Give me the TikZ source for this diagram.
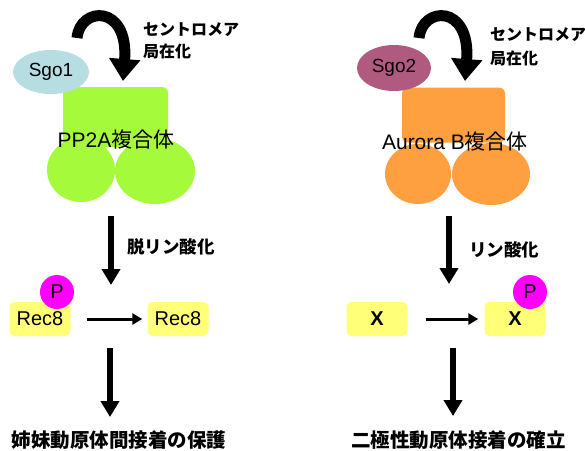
\documentclass[tikz,border=0pt]{standalone}
\usepackage{fontspec}
\setmainfont{Liberation Sans}
\newfontfamily\cjk{Noto Sans CJK JP}[BoldFont={Noto Sans CJK JP Black}]
\usetikzlibrary{arrows.meta,shapes.geometric}
\definecolor{pgreen}{RGB}{166,250,60}
\definecolor{porange}{RGB}{255,160,64}
\definecolor{sgoblue}{RGB}{182,221,226}
\definecolor{sgomauve}{RGB}{176,90,128}
\definecolor{pyellow}{RGB}{255,255,120}
\definecolor{pmag}{RGB}{255,0,255}
\begin{document}
\begin{tikzpicture}[x=1pt,y=-1pt,
  blob/.style={ellipse,draw=none,inner sep=0pt},
  cplx/.style={rectangle,rounded corners=6pt,draw=none,inner sep=0pt},
  sgo/.style={ellipse,draw=none,inner sep=0pt,font=\fontsize{19}{22}\selectfont},
  cplxlab/.style={inner sep=0pt,font=\fontsize{21}{24}\selectfont},
  jlab/.style={inner sep=0pt,anchor=west,font=\cjk\bfseries\fontsize{16}{18}\selectfont},
  plab/.style={inner sep=0pt,anchor=west,font=\cjk\bfseries\fontsize{17.5}{20}\selectfont},
  reslab/.style={inner sep=0pt,font=\cjk\bfseries\fontsize{19.5}{22}\selectfont},
  subbox/.style={rectangle,rounded corners=5pt,fill=pyellow,draw=none,inner sep=0pt,
     minimum width=61pt,minimum height=34pt,font=\fontsize{20}{24}\selectfont},
  phos/.style={circle,fill=pmag,draw=none,inner sep=0pt,minimum size=34pt,
     font=\fontsize{20}{24}\selectfont},
  curvarr/.style={line width=11pt,-{Triangle[width=30pt,length=22pt]}},
  darr/.style={line width=6pt,-{Triangle[width=18pt,length=16pt]}},
  harr/.style={line width=3pt,-{Triangle[width=11pt,length=10pt]}}]
\useasboundingbox (0,0) rectangle (585,450);

% ---------- left: PP2A ----------
\node[cplx,fill=pgreen,minimum width=105pt,minimum height=60pt] (pprect) at (115.5,117) {};
\node[blob,fill=pgreen,minimum width=68pt,minimum height=64pt] (ppc1) at (81,170) {};
\node[blob,fill=pgreen,minimum width=80pt,minimum height=66pt] (ppc2) at (155,171) {};
\node[cplxlab] (pplab) at (116,140) {PP2A{\cjk 複合体}};
\node[sgo,fill=sgoblue,minimum width=76pt,minimum height=44pt] (sgo1) at (51,72) {Sgo1};

\coordinate (c1s) at (77,38);
\coordinate (c1e) at (123,81);
\draw[curvarr] (c1s) .. controls (80,6) and (129,4) .. (c1e);
\node[jlab] (cen1a) at (143,29.5) {セントロメア};
\node[jlab] (cen1b) at (143,51.5) {局在化};

\coordinate (d1s) at (111,216);
\coordinate (d1e) at (111,285);
\draw[darr] (d1s) -- (d1e);
\node[plab] (dephos) at (127,247) {脱リン酸化};

\node[subbox] (rec8a) at (40,319) {Rec8};
\node[phos] (p1) at (57,292) {P};
\node[subbox] (rec8b) at (178,319) {Rec8};
\draw[harr] ([xshift=16pt]rec8a.east) -- ([xshift=-5pt]rec8b.west);

\coordinate (e1s) at (110,348);
\coordinate (e1e) at (110,417);
\draw[darr] (e1s) -- (e1e);
\node[reslab] (res1) at (119,440) {姉妹動原体間接着の保護};

% ---------- right: Aurora B ----------
\node[cplx,fill=porange,minimum width=103pt,minimum height=55pt] (aurect) at (453.5,115) {};
\node[blob,fill=porange,minimum width=66pt,minimum height=60pt] (auc1) at (418,174) {};
\node[blob,fill=porange,minimum width=78pt,minimum height=62pt] (auc2) at (491,174) {};
\node[cplxlab] (aulab) at (455,142) {Aurora B{\cjk 複合体}};
\node[sgo,fill=sgomauve,minimum width=74pt,minimum height=46pt] (sgo2) at (394,68) {Sgo2};

\coordinate (c2s) at (419,38);
\coordinate (c2e) at (465,81);
\draw[curvarr] (c2s) .. controls (422,6) and (471,4) .. (c2e);
\node[jlab] (cen2a) at (490,35) {セントロメア};
\node[jlab] (cen2b) at (490,58) {局在化};

\coordinate (d2s) at (449,216);
\coordinate (d2e) at (449,284);
\draw[darr] (d2s) -- (d2e);
\node[plab] (phosl) at (469,250) {リン酸化};

\node[subbox,font=\bfseries\fontsize{20}{24}\selectfont] (xa) at (377,319) {X};
\node[subbox,font=\bfseries\fontsize{20}{24}\selectfont] (xb) at (515,319) {X};
\node[phos] (p2) at (530,292) {P};
\draw[harr] ([xshift=18pt]xa.east) -- ([xshift=-6pt]xb.west);

\coordinate (e2s) at (453,348);
\coordinate (e2e) at (453,416);
\draw[darr] (e2s) -- (e2e);
\node[reslab] (res2) at (458.5,440) {二極性動原体接着の確立};
\end{tikzpicture}
\end{document}
